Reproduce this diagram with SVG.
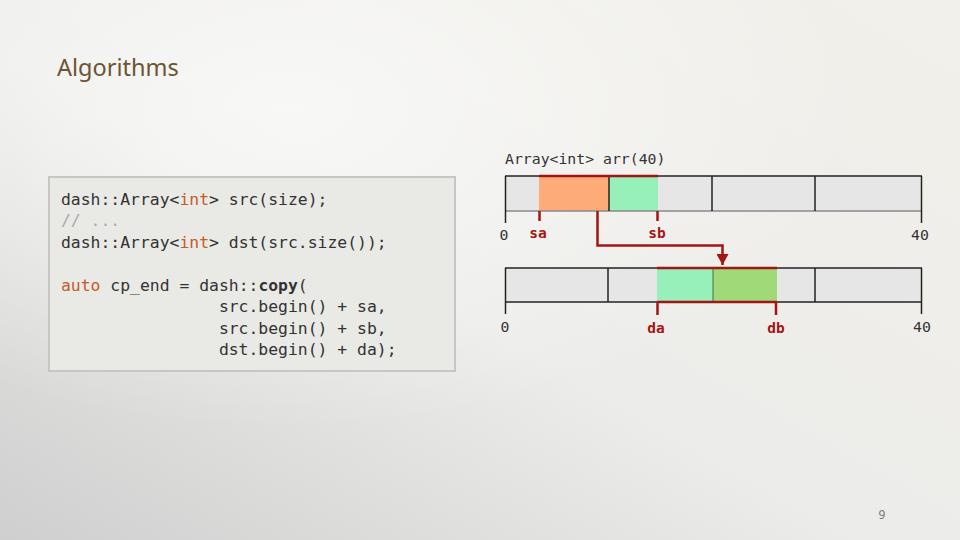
<svg xmlns="http://www.w3.org/2000/svg" width="960" height="540" viewBox="0 0 960 540">
<defs>
<linearGradient id="bg" x1="0" y1="1" x2="1" y2="0">
<stop offset="0" stop-color="#cfcfcf"/>
<stop offset="0.45" stop-color="#ececea"/>
<stop offset="1" stop-color="#f2f0ea"/>
</linearGradient>
<radialGradient id="hl" cx="0.3" cy="0.2" r="0.6">
<stop offset="0" stop-color="#ffffff" stop-opacity="0.6"/>
<stop offset="1" stop-color="#ffffff" stop-opacity="0"/>
</radialGradient>
<marker id="arr" viewBox="0 0 11 12" refX="11" refY="6" markerWidth="11" markerHeight="12" markerUnits="userSpaceOnUse" orient="auto">
<path d="M0,0 L11,6 L0,12 Z" fill="#a31515"/>
</marker>
<style>
.code{font-family:"DejaVu Sans Mono","Liberation Mono",monospace;font-size:16.4px;fill:#333;white-space:pre}
.kw{fill:#c55a2b}
.cm{fill:#aaa}
.mono{font-family:"DejaVu Sans Mono","Liberation Mono",monospace;font-size:14.8px;fill:#333}
.lbl{font-family:"DejaVu Sans Mono","Liberation Mono",monospace;font-size:14.5px;font-weight:bold;fill:#a31515}
.cell{fill:#e6e6e6}
.div{stroke:#222;stroke-width:1.5}
.red{stroke:#a31515;stroke-width:2.5;fill:none}
.tick{stroke:#222;stroke-width:1.5}
</style>
</defs>
<rect width="960" height="540" fill="url(#bg)"/>
<rect width="960" height="540" fill="url(#hl)"/>

<g id="title">
<text x="57" y="76" font-family="Noto Sans, sans-serif" font-size="23.5" fill="#6b5533">Algorithms</text>
</g>

<g id="code-box">
<rect x="49" y="177" width="406" height="194" fill="#e9e9e6" stroke="#c6c6c4" stroke-width="2"/>
<text class="code" x="61" y="205">dash::Array&lt;<tspan class="kw">int</tspan>&gt; src(size);</text>
<text class="code" x="61" y="226"><tspan class="cm">// ...</tspan></text>
<text class="code" x="61" y="248">dash::Array&lt;<tspan class="kw">int</tspan>&gt; dst(src.size());</text>
<text class="code" x="61" y="291"><tspan class="kw">auto</tspan> cp_end = dash::<tspan font-weight="bold">copy</tspan>(</text>
<text class="code" x="61" y="312">                src.begin() + sa,</text>
<text class="code" x="61" y="334">                src.begin() + sb,</text>
<text class="code" x="61" y="355">                dst.begin() + da);</text>
</g>

<g id="src-array">
<text class="mono" x="505" y="164">Array&lt;int&gt; arr(40)</text>
<rect class="cell" x="505" y="176" width="417" height="35"/>
<rect x="539" y="176" width="70" height="35" fill="#fdac79"/>
<rect x="609" y="176" width="49" height="35" fill="#97efb9"/>
<line x1="505" y1="211" x2="922" y2="211" stroke="#8a8a8a" stroke-width="1.5"/>
<line x1="505" y1="176" x2="922" y2="176" stroke="#222" stroke-width="1.5"/>
<line class="div" x1="609" y1="176" x2="609" y2="211"/>
<line class="div" x1="712" y1="176" x2="712" y2="211"/>
<line class="div" x1="815" y1="176" x2="815" y2="211"/>
<line class="tick" x1="505.5" y1="176" x2="505.5" y2="223"/>
<line class="tick" x1="921.5" y1="176" x2="921.5" y2="223"/>
<line class="red" x1="539" y1="176" x2="658" y2="176"/>
<line class="red" x1="539.5" y1="211" x2="539.5" y2="221"/>
<line class="red" x1="657.5" y1="211" x2="657.5" y2="221"/>
<text class="mono" x="504" y="240" text-anchor="middle">0</text>
<text class="lbl" x="538" y="238" text-anchor="middle">sa</text>
<text class="lbl" x="657" y="238" text-anchor="middle">sb</text>
<text class="mono" x="920" y="240" text-anchor="middle">40</text>
</g>

<g id="dst-array">
<rect class="cell" x="505" y="268" width="417" height="34"/>
<rect x="657" y="268" width="56" height="34" fill="#97efb9"/>
<rect x="713" y="268" width="64" height="34" fill="#a0da78"/>
<line x1="505" y1="268" x2="922" y2="268" stroke="#222" stroke-width="1.5"/>
<line x1="505" y1="302" x2="922" y2="302" stroke="#222" stroke-width="1.5"/>
<line class="div" x1="608" y1="268" x2="608" y2="302"/>
<line x1="713" y1="268" x2="713" y2="302" stroke="#4a6a40" stroke-width="1"/>
<line class="div" x1="815" y1="268" x2="815" y2="302"/>
<line class="tick" x1="505.5" y1="268" x2="505.5" y2="314"/>
<line class="tick" x1="921.5" y1="268" x2="921.5" y2="314"/>
<line class="red" x1="657" y1="268" x2="777" y2="268"/>
<line class="red" x1="657" y1="302" x2="777" y2="302"/>
<line class="red" x1="657.5" y1="302" x2="657.5" y2="315"/>
<line class="red" x1="776" y1="302" x2="776" y2="315"/>
<text class="mono" x="505" y="332" text-anchor="middle">0</text>
<text class="lbl" x="656" y="333" text-anchor="middle">da</text>
<text class="lbl" x="776" y="333" text-anchor="middle">db</text>
<text class="mono" x="922" y="332" text-anchor="middle">40</text>
</g>

<g id="connectors">
<path class="red" d="M597.5,211 V245.5 H722.5 V265" marker-end="url(#arr)"/>
</g>

<g id="page-number">
<text x="882" y="519" font-family="Noto Sans, sans-serif" font-size="12" fill="#777" text-anchor="middle">9</text>
</g>
</svg>
